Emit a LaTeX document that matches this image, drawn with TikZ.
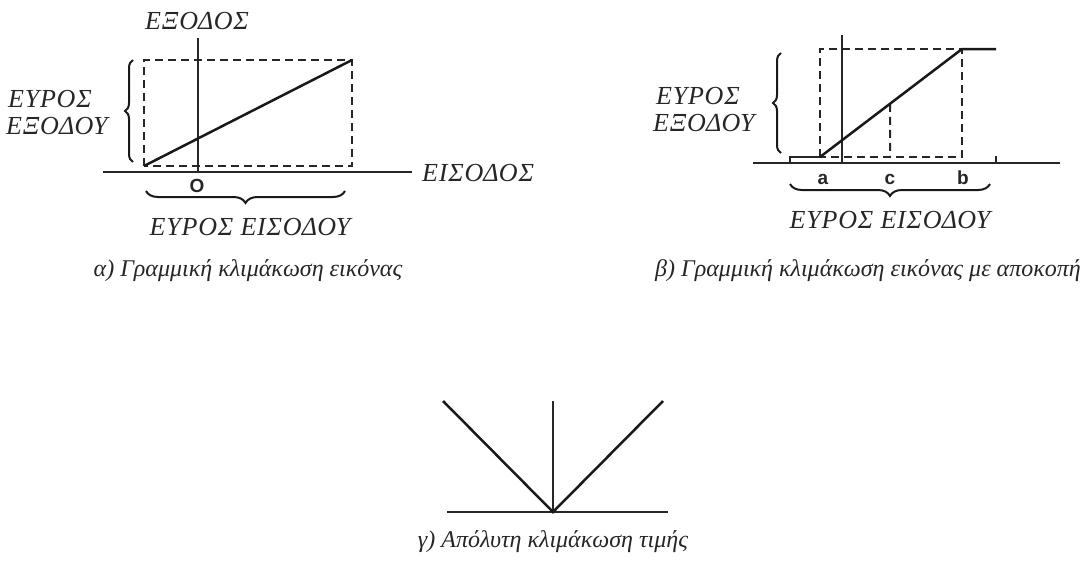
\documentclass[tikz,border=0pt]{standalone}
\usepackage{fontspec}
\setmainfont{Liberation Serif}
\setsansfont{Liberation Sans}
\usetikzlibrary{
  decorations.pathreplacing,
  positioning,
  calc
}
\tikzset{
  axisline/.style = {draw=black!85, line width=2.1pt},
  guide/.style = {
    draw=black!85, line width=2pt,
    dash pattern=on 8pt off 5pt
  },
  ramp/.style = {draw=black!90, line width=2.5pt},
  bracer/.style = {
    decorate, decoration={brace, amplitude=#1},
    draw=black!90, line width=2pt
  },
  bracer/.default = 9pt,
  lbl/.style  = {font=\fontsize{26}{30}\selectfont\itshape\addfontfeature{LetterSpace=3},
                 inner sep=0pt, text=black!85},
  tickl/.style = {font=\fontsize{19}{21}\selectfont\sffamily\bfseries, inner sep=0pt, text=black!85},
  capt/.style = {font=\fontsize{24}{28}\selectfont\itshape, inner sep=0pt, text=black!85},
}

\begin{document}
\begin{tikzpicture}[x=1pt, y=-1pt]
  \useasboundingbox (0,0) rectangle (1088,565);

  %% (a) linear scaling
  \coordinate (aL)  at (103,172);
  \coordinate (aR)  at (412,172);
  \coordinate (aO)  at (198,172);
  \coordinate (aT)  at (198,38);
  \coordinate (aP1) at (144,166);
  \coordinate (aP2) at (352,60);

  \draw[guide] (aP1) rectangle (aP2);
  \draw[axisline] (aL) -- (aR);
  \draw[axisline] (aT) -- (aO);
  \draw[ramp] (aP1) -- (aP2);

  \node[lbl, anchor=base] (aOut) at (197,29) {ΕΞΟΔΟΣ};
  \node[lbl, anchor=base west] (aIn) at (422,181) {ΕΙΣΟΔΟΣ};
  \node[tickl, anchor=base] (aZero) at (197,192) {O};
  \node[lbl, anchor=base west] (aRng1) at (8,107) {ΕΥΡΟΣ};
  \node[lbl, anchor=base west] (aRng2) at (6,134) {ΕΞΟΔΟΥ};
  \node[lbl, anchor=base] (aRngIn) at (250,235) {ΕΥΡΟΣ ΕΙΣΟΔΟΥ};

  \draw[bracer=8pt] (133,162) -- (133,60);
  \draw[bracer=12pt] (345,191) -- (146,191);

  \node[capt, anchor=base] (capA) at (248,276) {α) Γραμμική κλιμάκωση εικόνας};

  %% (b) linear scaling with clipping
  \coordinate (bL)  at (753,163);
  \coordinate (bR)  at (1060,163);
  \coordinate (bO)  at (842,163);
  \coordinate (bT)  at (842,35);
  \coordinate (bA)  at (820,157);
  \coordinate (bB)  at (962,49);
  \coordinate (bC)  at (890,157);
  \coordinate (bCt) at ($(bA)!0.493!(bB)$);
  \coordinate (bE)  at (996,49);

  \draw[guide] (bA) rectangle (bB);
  \draw[guide] (bCt) -- (bC);
  \draw[axisline] (bL) -- (bR);
  \draw[axisline] (bT) -- (bO);
  \draw[axisline] (996,163) -- (996,156);
  \draw[axisline] (790,163) -- (790,157) -- (bA);
  \draw[ramp] (bA) -- (bB) -- (bE);

  \node[tickl, anchor=base] (ba) at (823,184) {a};
  \node[tickl, anchor=base] (bc) at (890,184) {c};
  \node[tickl, anchor=base] (bb) at (963,184) {b};
  \node[lbl, anchor=base west] (bRng1) at (656,104) {ΕΥΡΟΣ};
  \node[lbl, anchor=base west] (bRng2) at (653,131) {ΕΞΟΔΟΥ};
  \node[lbl, anchor=base] (bRngIn) at (890,228) {ΕΥΡΟΣ ΕΙΣΟΔΟΥ};

  \draw[bracer=8pt] (781,153) -- (781,53);
  \draw[bracer=12pt] (990,184) -- (790,184);

  \node[capt, anchor=base] (capB) at (868,276) {β) Γραμμική κλιμάκωση εικόνας με αποκοπή};

  %% (c) absolute value scaling
  \coordinate (cL) at (447,512);
  \coordinate (cR) at (668,512);
  \coordinate (cV) at (553,512);

  \draw[axisline] (cL) -- (cR);
  \draw[axisline] (cV) -- (553,401);
  \draw[ramp] (443,401) -- (cV) -- (663,401);

  \node[capt, anchor=base] (capC) at (553,547) {γ) Απόλυτη κλιμάκωση τιμής};

\end{tikzpicture}
\end{document}
